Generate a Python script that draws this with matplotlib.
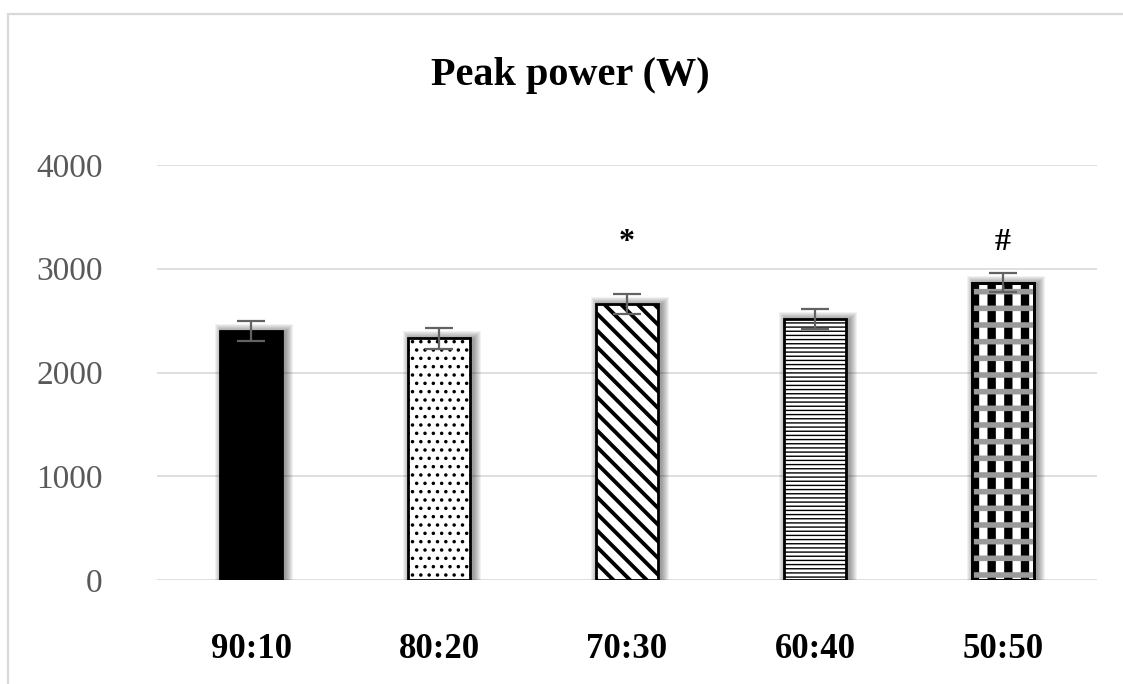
import matplotlib
matplotlib.use("Agg")
import matplotlib.pyplot as plt
from matplotlib.patches import Rectangle

plt.rcParams['font.family'] = ['Liberation Serif', 'DejaVu Serif']

# ---- data -------------------------------------------------------------
categories = ["90:10", "80:20", "70:30", "60:40", "50:50"]
peak_power = [2400, 2330, 2660, 2513, 2866]
peak_sd = [100, 100, 95, 95, 90]
sig_marks = ["", "", "*", "", "#"]
sig_level = 3250
y_ticks = [0, 1000, 2000, 3000, 4000]
title = "Peak power (W)"

# ---- styles -------------------------------------------------------------
# (hatch, hatch linewidth in pt, face colour)
bar_styles = [
    ("", 1.0, "black"),
    ("..", 1.3, "white"),
    ("\\\\", 2.8, "white"),
    ("----", 1.0, "white"),
    ("|", 6.0, "white"),
]
BAR_W = 0.325
W, H, DPI = 1123, 684, 100


def set_hatch_lw(patch, lw):
    """Give one patch its own hatch line width."""
    if hasattr(patch, "set_hatch_linewidth"):
        patch.set_hatch_linewidth(lw)
    orig = patch.draw

    def draw(renderer, _orig=orig, _lw=lw):
        with matplotlib.rc_context({"hatch.linewidth": _lw}):
            _orig(renderer)
    patch.draw = draw


fig = plt.figure(figsize=(W / DPI, H / DPI), dpi=DPI)
fig.patch.set_facecolor("white")

# light chart-area frame (open to the right and bottom)
fig.patches.append(Rectangle((8 / W, -0.1), 1.2, 1.1 - 14 / H,
                             transform=fig.transFigure, fill=False,
                             edgecolor="#d9d9d9", linewidth=1.6, zorder=0))

left, right = 157 / W, 1097 / W
bottom, top = 1 - 580 / H, 1 - 165 / H
ax = fig.add_axes([left, bottom, right - left, top - bottom])
ax.set_xlim(-0.5, len(categories) - 0.5)
ax.set_ylim(y_ticks[0], y_ticks[-1])

# data units per pixel
px_x = len(categories) / (1097 - 157)
px_y = (y_ticks[-1] - y_ticks[0]) / (580 - 165)

# soft drop shadows behind the bars
for i, v in enumerate(peak_power):
    for r in range(1, 9):
        ax.add_patch(Rectangle((i - BAR_W / 2 - r * px_x + 3 * px_x, -500),
                               BAR_W + 2 * r * px_x,
                               v + 500 + r * px_y - 1 * px_y,
                               facecolor="black", edgecolor="none",
                               alpha=0.055, zorder=1.5))

xs = list(range(len(categories)))
for i, (v, (hatch, hlw, fc)) in enumerate(zip(peak_power, bar_styles)):
    matplotlib.rcParams["hatch.linewidth"] = hlw
    bc = ax.bar(xs[i], v, width=BAR_W, color=fc, edgecolor="black",
                linewidth=2.0, hatch=hatch or None, zorder=2)
    set_hatch_lw(bc.patches[0], hlw)

# woven bands on the last bar
matplotlib.rcParams["hatch.linewidth"] = 4.0
band = ax.bar(xs[4], peak_power[4], width=BAR_W, color="none",
              edgecolor="#9a9a9a", linewidth=0, hatch="-", zorder=2.5)
set_hatch_lw(band.patches[0], 4.0)
# outline on top of the bands
ax.bar(xs[4], peak_power[4], width=BAR_W, color="none", edgecolor="black",
       linewidth=2.0, zorder=2.6)

ax.errorbar(xs, peak_power, yerr=peak_sd, fmt="none", ecolor="#626262",
            elinewidth=1.6, capsize=10, capthick=1.6, zorder=4)

for i, m in enumerate(sig_marks):
    if m:
        ax.text(xs[i], sig_level, m, ha="center", va="center",
                fontsize=23, fontweight="bold", color="black")

ax.set_yticks(y_ticks)
ax.set_yticklabels([str(t) for t in y_ticks])
ax.set_xticks(xs)
ax.set_xticklabels(categories)
ax.tick_params(axis="y", length=0, pad=39, labelsize=24, labelcolor="#595959")
ax.tick_params(axis="x", length=0, pad=38, labelsize=25, labelcolor="black")
for lab in ax.get_xticklabels():
    lab.set_fontweight("bold")

ax.grid(axis="y", color="#d9d9d9", linewidth=1.2, zorder=0)
ax.set_axisbelow(True)
for s in ax.spines.values():
    s.set_visible(False)

fig.text(570 / W, 1 - 85 / H, title, ha="center", va="baseline",
         fontsize=29, fontweight="bold", color="black")

fig.savefig("out.png", dpi=DPI)
